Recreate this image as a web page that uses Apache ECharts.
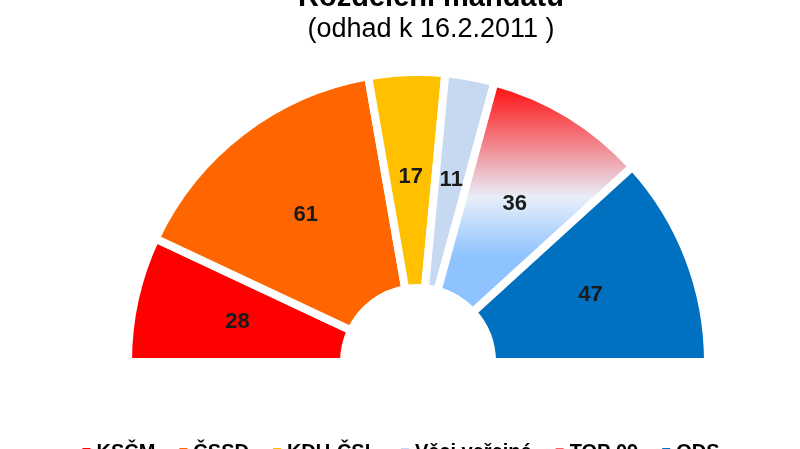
<!DOCTYPE html>
<html><head><meta charset="utf-8">
<script src="https://cdn.jsdelivr.net/npm/echarts@6/dist/echarts.min.js"></script>
<style>html,body{margin:0;padding:0;background:#fff}#c{width:800px;height:449px}</style>
</head><body><div id="c"></div>
<script>
var parties = ['KSČM', 'ČSSD', 'KDU-ČSL', 'Věci veřejné', 'TOP 09', 'ODS'];
var seats = [28, 61, 17, 11, 36, 47];
var colors = ['#ff0000', '#ff6600', '#ffc000', '#c6d9f1',
    new echarts.graphic.LinearGradient(0, 0, 0, 1, [
        {offset: 0, color: '#ff0000'}, {offset: 0.5, color: '#e8eefa'}, {offset: 0.75, color: '#8ec3ff'}, {offset: 1, color: '#8ec3ff'}]),
    '#0070c0'];

var e = echarts.init(document.getElementById('c'));
e.setOption({
    animation: false,
    title: {
        text: 'Rozdělení mandátů',
        subtext: '(odhad k 16.2.2011 )',
        left: 426, textAlign: 'center', top: -22, itemGap: 4,
        textStyle: {fontFamily: 'Liberation Sans', fontSize: 29, fontWeight: 'bold', color: '#000'},
        subtextStyle: {fontFamily: 'Liberation Sans', fontSize: 27, color: '#000'}
    },
    legend: {
        bottom: -18, left: 'center', icon: 'rect', itemWidth: 10, itemHeight: 10, itemGap: 22,
        textStyle: {fontFamily: 'Liberation Sans', fontSize: 20, fontWeight: 'bold', color: '#000'},
        data: parties
    },
    series: [{
        type: 'pie',
        center: [418, 362],
        radius: [74, 290],
        startAngle: 180,
        endAngle: 0,
        itemStyle: {borderColor: '#fff', borderWidth: 8},
        label: {position: 'inside', fontFamily: 'Liberation Sans', fontSize: 22, fontWeight: 'bold', color: '#1a1a1a', formatter: '{c}'},
        data: parties.map(function (p, i) {
            return {name: p, value: seats[i], itemStyle: {color: colors[i]}};
        })
    }]
});
</script></body></html>
